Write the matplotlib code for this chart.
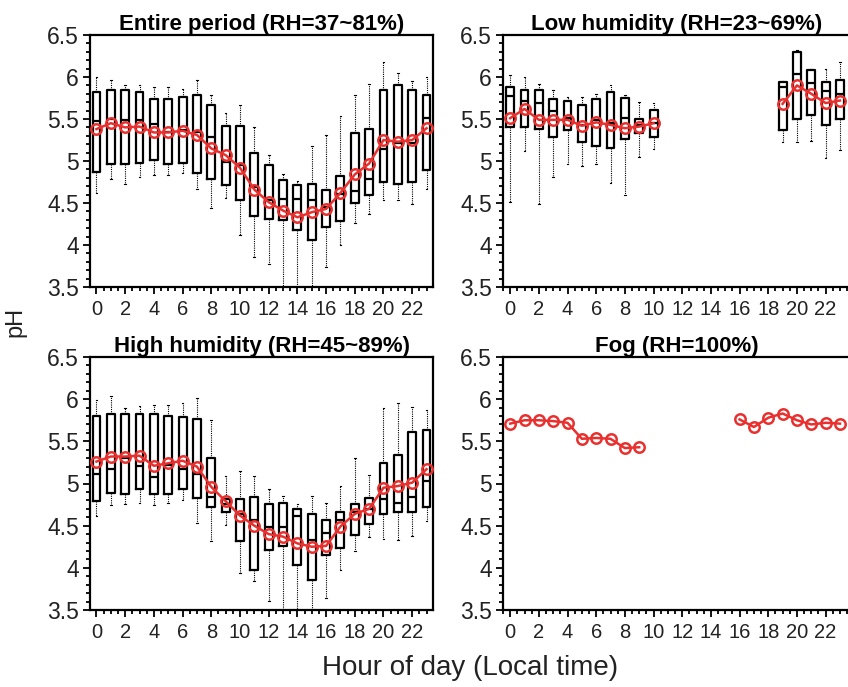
import numpy as np
import matplotlib
matplotlib.use('Agg')
import matplotlib.pyplot as plt
from matplotlib.ticker import MultipleLocator

plt.rcParams['font.family'] = ['Liberation Sans', 'DejaVu Sans']

nan = np.nan
hours = list(range(24))

# entire period
all_hi = [6.00, 5.96, 5.91, 5.90, 5.88, 5.88, 5.86, 5.96, 5.78, 5.57, 5.67, 5.41,
          5.07, 4.84, 4.76, 5.18, 5.31, 5.54, 5.78, 5.92, 6.18, 6.05, 5.95, 6.00]
all_q3 = [5.82, 5.84, 5.84, 5.82, 5.74, 5.74, 5.76, 5.78, 5.67, 5.42, 5.42, 5.09,
          4.95, 4.77, 4.72, 4.73, 4.66, 4.82, 5.33, 5.38, 5.84, 5.90, 5.84, 5.78]
all_med = [5.48, 5.50, 5.49, 5.49, 5.44, 5.35, 5.37, 5.35, 5.29, 4.99, 4.95, 4.69,
           4.53, 4.55, 4.55, 4.53, 4.45, 4.61, 4.64, 4.78, 5.14, 5.21, 5.21, 5.51]
all_q1 = [4.87, 4.97, 4.96, 4.98, 5.01, 4.96, 4.98, 4.86, 4.78, 4.71, 4.53, 4.35,
          4.31, 4.30, 4.18, 4.06, 4.22, 4.28, 4.50, 4.59, 4.75, 4.73, 4.75, 4.89]
all_lo = [4.62, 4.78, 4.73, 4.81, 4.83, 4.83, 4.86, 4.67, 4.44, 4.56, 4.12, 3.86,
          3.77, 3.40, 3.40, 3.40, 3.74, 4.00, 4.26, 4.37, 4.53, 4.53, 4.49, 4.67]
all_mean = [5.38, 5.45, 5.40, 5.41, 5.34, 5.34, 5.36, 5.31, 5.15, 5.07, 4.92, 4.66,
            4.51, 4.41, 4.33, 4.39, 4.43, 4.62, 4.84, 4.97, 5.25, 5.23, 5.25, 5.39]

# low humidity
low_hi = [6.02, 6.00, 5.92, 5.84, 5.76, 5.76, 5.80, 5.91, 5.79, 5.70, 5.69, nan,
          nan, nan, nan, nan, nan, nan, nan, 5.95, 6.32, 6.10, 6.10, 6.18]
low_q3 = [5.88, 5.85, 5.84, 5.74, 5.71, 5.67, 5.74, 5.82, 5.75, 5.50, 5.61, nan,
          nan, nan, nan, nan, nan, nan, nan, 5.94, 6.30, 6.08, 5.94, 5.97]
low_med = [5.77, 5.72, 5.69, 5.59, 5.51, 5.43, 5.49, 5.45, 5.51, 5.43, 5.45, nan,
           nan, nan, nan, nan, nan, nan, nan, 5.88, 6.04, 5.93, 5.83, 5.80]
low_q1 = [5.40, 5.40, 5.38, 5.29, 5.37, 5.23, 5.18, 5.16, 5.26, 5.33, 5.29, nan,
          nan, nan, nan, nan, nan, nan, nan, 5.37, 5.50, 5.55, 5.43, 5.50]
low_lo = [4.51, 5.12, 4.49, 4.81, 4.96, 4.94, 4.97, 4.74, 4.60, 5.05, 5.14, nan,
          nan, nan, nan, nan, nan, nan, nan, 5.23, 5.23, 5.24, 5.03, 5.13]
low_mean = [5.51, 5.62, 5.49, 5.49, 5.49, 5.42, 5.46, 5.43, 5.39, 5.41, 5.45, nan,
            nan, nan, nan, nan, nan, nan, nan, 5.68, 5.90, 5.80, 5.69, 5.72]

# high humidity
high_hi = [5.99, 6.04, 5.90, 5.92, 5.93, 5.93, 5.95, 6.01, 5.75, 5.09, 5.15, 5.09,
           4.94, 4.85, 4.76, 4.85, 4.77, 4.97, 5.30, 5.10, 5.90, 5.95, 5.91, 5.87]
high_q3 = [5.80, 5.83, 5.83, 5.83, 5.82, 5.80, 5.79, 5.76, 5.30, 4.82, 4.82, 4.84,
           4.76, 4.77, 4.70, 4.64, 4.57, 4.66, 4.76, 4.83, 5.24, 5.34, 5.61, 5.64]
high_med = [5.11, 5.17, 5.30, 5.21, 5.08, 5.22, 5.17, 5.11, 4.84, 4.76, 4.64, 4.57,
            4.49, 4.49, 4.61, 4.33, 4.41, 4.57, 4.66, 4.70, 4.82, 4.77, 4.84, 5.03]
high_q1 = [4.79, 4.89, 4.88, 4.94, 4.87, 4.87, 4.93, 4.83, 4.72, 4.66, 4.32, 3.97,
           4.21, 4.26, 4.03, 3.86, 4.15, 4.23, 4.39, 4.52, 4.64, 4.66, 4.66, 4.72]
high_lo = [4.62, 4.75, 4.76, 4.77, 4.74, 4.77, 4.80, 4.53, 4.32, 4.51, 3.94, 3.84,
           3.61, 3.40, 3.40, 3.40, 3.64, 3.97, 4.20, 4.36, 4.34, 4.33, 4.38, 4.55]
high_mean = [5.26, 5.32, 5.32, 5.33, 5.21, 5.24, 5.27, 5.20, 4.96, 4.79, 4.62, 4.50,
             4.40, 4.37, 4.29, 4.25, 4.26, 4.49, 4.64, 4.70, 4.95, 4.97, 5.01, 5.17]

# fog, means only
fog_mean = [5.71, 5.75, 5.75, 5.74, 5.72, 5.53, 5.54, 5.53, 5.42, 5.43, nan, nan,
            nan, nan, nan, nan, 5.76, 5.67, 5.78, 5.83, 5.75, 5.70, 5.72, 5.71]

titles = ['Entire period (RH=37~81%)', 'Low humidity (RH=23~69%)',
          'High humidity (RH=45~89%)', 'Fog (RH=100%)']
ytick_vals = [3.5, 4, 4.5, 5, 5.5, 6, 6.5]
ytick_labels = ['3.5', '4', '4.5', '5', '5.5', '6', '6.5']
xtick_vals = list(range(0, 24, 2))

red = '#e8312f'


def box_stats(lo, q1, med, q3, hi):
    stats, pos = [], []
    for h in hours:
        if np.isnan(med[h]):
            continue
        stats.append(dict(whislo=lo[h], q1=q1[h], med=med[h], q3=q3[h], whishi=hi[h], fliers=[]))
        pos.append(h)
    return stats, pos


W, H = 848, 687
fig = plt.figure(figsize=(W / 100, H / 100), dpi=100)


def px_axes(left, top, right, bottom):
    return fig.add_axes([left / W, 1 - bottom / H, (right - left) / W, (bottom - top) / H])


ax_all = px_axes(90, 35, 433, 287)
ax_low = px_axes(503, 35, 850, 287)
ax_high = px_axes(90, 357, 433, 610)
ax_fog = px_axes(503, 357, 850, 610)

panels = [
    (ax_all, (all_lo, all_q1, all_med, all_q3, all_hi), all_mean, (-0.45, 23.45)),
    (ax_low, (low_lo, low_q1, low_med, low_q3, low_hi), low_mean, (-0.5, 23.7)),
    (ax_high, (high_lo, high_q1, high_med, high_q3, high_hi), high_mean, (-0.45, 23.45)),
    (ax_fog, None, fog_mean, (-0.5, 23.7)),
]

for (ax, box, mean, xl), title in zip(panels, titles):
    if box is not None:
        stats, pos = box_stats(*box)
        ax.bxp(stats, positions=pos, widths=0.55, showfliers=False, manage_ticks=False,
               boxprops=dict(color='k', lw=1.6),
               medianprops=dict(color='k', lw=1.6),
               whiskerprops=dict(color='k', lw=0.8, linestyle=(0, (1, 1))),
               capprops=dict(color='k', lw=0.8), capwidths=0.12)
    ax.plot(hours, mean, '-o', color=red, lw=1.8, ms=7.5, mfc='none', mew=1.8, zorder=5)

    ax.set_xlim(*xl)
    ax.set_ylim(3.5, 6.5)
    ax.set_xticks(xtick_vals)
    ax.set_xticklabels([str(x) for x in xtick_vals], fontsize=14.5, color='#222222',
                       family=['Liberation Sans Narrow', 'Liberation Sans'])
    ax.xaxis.set_minor_locator(MultipleLocator(0.5))
    ax.set_yticks(ytick_vals)
    ax.set_yticklabels(ytick_labels, fontsize=16.5, color='#222222')
    ax.yaxis.set_minor_locator(MultipleLocator(0.1))
    ax.tick_params(which='both', direction='out', top=False, right=False, width=1.3, color='k')
    ax.tick_params(which='major', length=5, pad=3)
    ax.tick_params(which='minor', length=3)
    ax.tick_params(axis='x', which='major', pad=4)
    for s in ax.spines.values():
        s.set_linewidth(1.6)
    ax.set_title(title, fontsize=16, fontweight='bold', pad=2)

fig.text(0.018, 0.531, 'pH', rotation=90, fontsize=17, va='center', ha='center', color='#222222')
fig.text(0.554, 0.027, 'Hour of day (Local time)', fontsize=20, va='center', ha='center',
         color='#222222')

fig.savefig('out.png', dpi=100)
